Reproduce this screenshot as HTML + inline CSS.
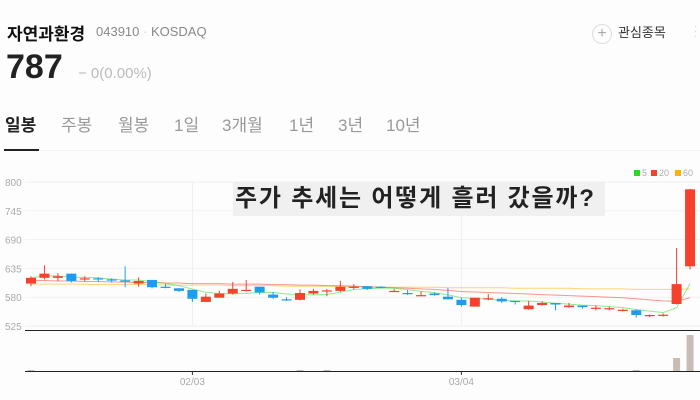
<!DOCTYPE html>
<html><head><meta charset="utf-8">
<style>
body{margin:0;width:700px;height:400px;background:#fdfdfd;font-family:"Liberation Sans","Noto Sans CJK KR",sans-serif;overflow:hidden;position:relative}
.a{position:absolute;white-space:nowrap}
</style></head><body>
<div class="a" style="left:7px;top:20px;font-size:17px;font-weight:bold;color:#111">자연과환경</div>
<div class="a" style="left:96px;top:24px;font-size:13px;color:#888">043910 <span style="color:#ccc">·</span> KOSDAQ</div>
<div class="a" style="left:6px;top:48px;font-size:34px;font-weight:bold;color:#222">787</div>
<div class="a" style="left:78px;top:65px;font-size:15px;color:#bbb">− 0(0.00%)</div>
<div class="a" style="left:592px;top:22px;font-size:13px;color:#333"><span style="display:inline-block;width:18px;height:18px;border:1px solid #ddd;border-radius:50%;text-align:center;line-height:17px;color:#aaa;font-size:16px;vertical-align:middle;margin-right:6px">+</span>관심종목</div>
<div class="a" style="left:694px;top:24px;width:3px;color:#ccc;font-size:10px;line-height:5px">·<br>·<br>·</div>
<div>
<div class="a" style="left:5px;top:111px;font-size:17px;font-weight:bold;color:#222">일봉</div>
<div class="a" style="left:61px;top:111px;font-size:17px;color:#999">주봉</div>
<div class="a" style="left:118px;top:111px;font-size:17px;color:#999">월봉</div>
<div class="a" style="left:174px;top:111px;font-size:17px;color:#999">1일</div>
<div class="a" style="left:222px;top:111px;font-size:17px;color:#999">3개월</div>
<div class="a" style="left:289px;top:111px;font-size:17px;color:#999">1년</div>
<div class="a" style="left:338px;top:111px;font-size:17px;color:#999">3년</div>
<div class="a" style="left:386px;top:111px;font-size:17px;color:#999">10년</div>
<div class="a" style="left:4px;top:149px;width:35px;height:2px;background:#222"></div>
<div class="a" style="left:39px;top:150px;width:661px;height:1px;background:#f3f3f3"></div>
</div>
<svg id="chart" class="a" style="left:0;top:0" width="700" height="400" font-family="Liberation Sans, sans-serif"></svg>
<div class="a" style="left:233px;top:182px;width:372px;height:34px;background:#f0f0f0;font-family:'Liberation Sans','Noto Sans CJK KR',sans-serif;font-size:24px;font-weight:bold;color:#222;line-height:34px;padding-left:2px;letter-spacing:1.8px;box-sizing:border-box;overflow:hidden">주가 추세는 어떻게 흘러 갔을까?</div>
<script>
const opens=[606,617,617,625,615,616,614,612,606,613,600,597,594,571,579,587,592,600,585,576,575,587,592,592,599,601,600,591,588,583,587,581,575,562,576,577,573,557,565,569,561,564,559,558,555,555,545,546,567,639];
const highs=[620,641,626,625,620,618,616,639,618,613,605,597,594,587,592,609,613,600,590,580,595,596,596,611,605,601,601,596,594,591,589,598,579,579,586,580,573,573,572,569,569,564,564,562,558,557,547,549,674,787];
const lows=[601,614,611,608,610,609,608,599,600,597,597,590,571,571,579,585,591,585,577,573,574,585,582,590,595,594,597,590,584,582,583,576,562,562,574,569,566,556,564,555,560,558,555,555,553,541,542,543,566,633];
const closes=[617,625,620,611,616,614,612,611,611,599,598,592,577,581,587,596,594,589,579,574,588,592,593,600,600,596,598,592,586,584,584,576,565,579,578,572,571,564,569,566,564,561,560,559,556,546,546,546.5,605,786];
const volumes=[1,0,0,0,0,0,0,0,0,0,0,0,0,0,0,0,0,0,0,0,1,0,1,0,0,0,0,0,0,0,0,0,0,0,0,0,0,0,0,0,0,0,0,0,0,1,0,0,13,36];
const ma20=[612,612,611,611,610,610,609,609,608,608,607,607,606,606,606,605,605,605,604,604,603,603,602,602,601,600,599,598,597,596,595,593,591,590,589,588,587,586,585,584,583,582,581,580,579,577,575,573,572,579];
const ma60=[605,605,605,605,605,604,604,604,604,604,603,603,603,603,603,602,602,602,602,601,601,601,601,600,600,600,599,599,599,599,599,598,598,598,598,598,597,597,597,597,597,596,596,596,596,595,595,595,595,596];
const yTicks=[800,745,690,635,580,525];
const xLabels=[{i:12,t:"02/03"},{i:32,t:"03/04"}];
const ns="http://www.w3.org/2000/svg",svg=document.getElementById('chart');
const X0=31,DX=13.45,Y800=182,Y525=326;
const x=i=>X0+i*DX, y=p=>Y800+(800-p)*(Y525-Y800)/275;
const VB=371,VS=1.0, vy=v=>VB-v*VS;
function mk(t,a){const e=document.createElementNS(ns,t);for(const k in a)e.setAttribute(k,a[k]);svg.appendChild(e);return e;}
yTicks.forEach(v=>{const g=mk('line',{x1:25,x2:700,y1:y(v),y2:y(v),stroke:'#f0f0f0'});


const t=mk('text',{x:5,y:y(v)+4,'font-size':10,fill:'#aaa'});t.textContent=v;

});
xLabels.forEach(l=>{const g=mk('line',{x1:x(l.i),x2:x(l.i),y1:182,y2:326,stroke:'#eee'});


const tk=mk('line',{x1:x(l.i),x2:x(l.i),y1:371,y2:375,stroke:'#333'});


const t=mk('text',{x:x(l.i),y:385,'font-size':10,fill:'#aaa','text-anchor':'middle'});t.textContent=l.t;

});
function line(arr,col,name){const d=arr.map((v,i)=>(i?'L':'M')+x(i)+','+y(v)).join('');const p=mk('path',{d:d,fill:'none',stroke:col,'stroke-width':1,opacity:.55});

}
line(ma60,'#ffb300','ma60-line');line(ma20,'#f5412e','ma20-line');
const ma5=closes.map((c,i)=>{const s=closes.slice(Math.max(0,i-4),i+1);return s.reduce((a,b)=>a+b,0)/s.length;});
line(ma5,'#33dd33','ma5-line');
closes.forEach((c,i)=>{const o=opens[i],up=c>=o,col=up?'#f5412e':'#1e9cf0';
const w=mk('line',{x1:x(i),x2:x(i),y1:y(highs[i]),y2:y(lows[i]),stroke:col,'stroke-width':1});


const t=y(Math.max(o,c)),b=y(Math.min(o,c));
const r=mk('rect',{x:x(i)-5,y:t,width:10,height:Math.max(1.2,b-t),fill:col});


const v=mk('rect',{x:x(i)-3.5,y:vy(volumes[i]),width:7,height:volumes[i]*VS,fill:'#c8bcb4'});

});
const s1=mk('line',{x1:25,x2:700,y1:330.5,y2:330.5,stroke:'#222'});


const s2=mk('line',{x1:25,x2:700,y1:371.5,y2:371.5,stroke:'#222'});


[['5','#22dd22',634],['20','#f5412e',651],['60','#ffb300',675]].forEach(l=>{
const r=mk('rect',{x:l[2],y:170,width:6,height:6,fill:l[1]});


const t=mk('text',{x:l[2]+8,y:176,'font-size':9,fill:'#aaa'});t.textContent=l[0];

});
</script>
</body></html>
